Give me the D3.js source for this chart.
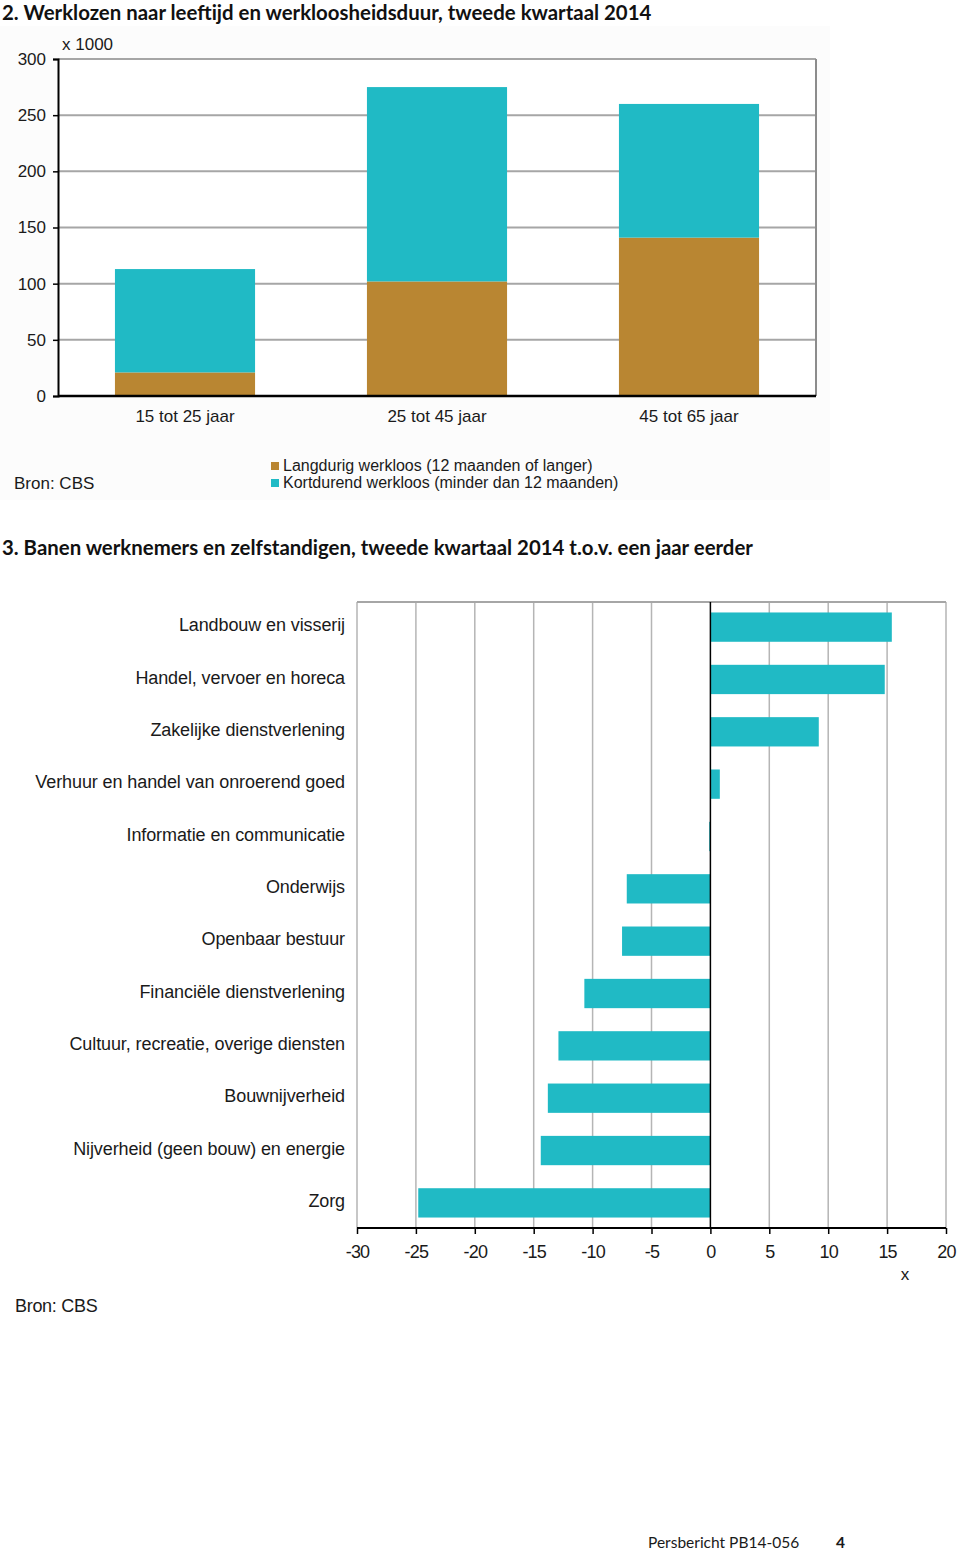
<!DOCTYPE html>
<html><head><meta charset="utf-8">
<script src="https://cdn.jsdelivr.net/npm/d3@7"></script>
<style>
body{margin:0;background:#fff;}
svg text{font-family:"Liberation Sans",Arial,sans-serif;fill:#1a1a1a;}
.title{font-family:Lato,"Open Sans",sans-serif;font-weight:bold;font-size:20.4px;fill:#111;}
</style></head>
<body>
<svg id="c" width="960" height="1550"></svg>
<script>
// Chart 2 data (x 1000)
const ageGroups = ["15 tot 25 jaar", "25 tot 45 jaar", "45 tot 65 jaar"];
const longTerm = [21, 102, 141];
const shortTerm = [92, 173, 119];
const yTicks2 = [0, 50, 100, 150, 200, 250, 300];
const seriesNames = ["Langdurig werkloos (12 maanden of langer)", "Kortdurend werkloos (minder dan 12 maanden)"];

// Chart 3 data
const sectors = ["Landbouw en visserij", "Handel, vervoer en horeca", "Zakelijke dienstverlening",
  "Verhuur en handel van onroerend goed", "Informatie en communicatie", "Onderwijs", "Openbaar bestuur",
  "Financiële dienstverlening", "Cultuur, recreatie, overige diensten", "Bouwnijverheid",
  "Nijverheid (geen bouw) en energie", "Zorg"];
const changes = [15.4, 14.8, 9.2, 0.8, -0.1, -7.1, -7.5, -10.7, -12.9, -13.8, -14.4, -24.8];
const xTicks3 = [-30, -25, -20, -15, -10, -5, 0, 5, 10, 15, 20];

const teal = "#20bac5", brown = "#b98632";
const svg = d3.select("#c");

// ---------- Chart 2 ----------
svg.append("text").attr("class","title").attr("x",2).attr("y",20).text("2. Werklozen naar leeftijd en werkloosheidsduur, tweede kwartaal 2014");
svg.append("rect").attr("x",0).attr("y",26).attr("width",830).attr("height",474).attr("fill","#fcfcfc");

const L2=58, R2=816, T2=59, B2=396;
const y2 = d3.scaleLinear().domain([0,300]).range([B2,T2]);
const x2 = d3.scaleBand().domain(ageGroups).range([L2,R2]).paddingInner(0.444).paddingOuter(0.226);
const g2 = svg.append("g");
g2.append("rect").attr("x",L2).attr("y",T2).attr("width",R2-L2).attr("height",B2-T2).attr("fill","#fff");
g2.selectAll("line.grid").data(yTicks2.filter(d=>d>0)).join("line")
  .attr("x1",L2).attr("x2",R2).attr("y1",d=>y2(d)).attr("y2",d=>y2(d))
  .attr("stroke","#a6a6a6").attr("stroke-width",2);
g2.append("line").attr("x1",R2).attr("x2",R2).attr("y1",T2).attr("y2",B2).attr("stroke","#8c8c8c").attr("stroke-width",2);

g2.selectAll("rect.long").data(ageGroups).join("rect")
  .attr("x",d=>x2(d)).attr("width",x2.bandwidth())
  .attr("y",(d,i)=>y2(longTerm[i])).attr("height",(d,i)=>B2-y2(longTerm[i])).attr("fill",brown);
g2.selectAll("rect.short").data(ageGroups).join("rect")
  .attr("x",d=>x2(d)).attr("width",x2.bandwidth())
  .attr("y",(d,i)=>y2(longTerm[i]+shortTerm[i])).attr("height",(d,i)=>y2(longTerm[i])-y2(longTerm[i]+shortTerm[i])).attr("fill",teal);

const ya = g2.append("g").attr("transform",`translate(${L2},0)`)
  .call(d3.axisLeft(y2).tickValues(yTicks2).tickSize(5).tickPadding(7));
ya.select(".domain").attr("stroke","#000").attr("stroke-width",2);
ya.selectAll(".tick line").attr("stroke","#000").attr("stroke-width",1.5);
ya.selectAll("text").style("font-size","17px").attr("fill","#1a1a1a");

const xa = g2.append("g").attr("transform",`translate(0,${B2})`)
  .call(d3.axisBottom(x2).tickSize(0).tickPadding(14));
xa.select(".domain").attr("stroke","#000").attr("stroke-width",2.5).attr("d",`M${L2},0H${R2}`);
xa.selectAll("text").style("font-size","17px").attr("fill","#1a1a1a");

svg.append("text").attr("x",62).attr("y",50).style("font-size","17px").text("x 1000");

const leg = svg.append("g");
[brown,teal].forEach((c,i)=>{
  leg.append("rect").attr("x",271).attr("y",462+i*17).attr("width",8).attr("height",8).attr("fill",c);
  leg.append("text").attr("x",283).attr("y",471+i*17).style("font-size","16px").text(seriesNames[i]);
});
svg.append("text").attr("x",14).attr("y",489).style("font-size","17px").text("Bron: CBS");

// ---------- Chart 3 ----------
svg.append("text").attr("class","title").attr("x",2).attr("y",555).text("3. Banen werknemers en zelfstandigen, tweede kwartaal 2014 t.o.v. een jaar eerder");

const L3=357, R3=946, T3=602, B3=1228;
const x3 = d3.scaleLinear().domain([-30,20]).range([L3,R3]);
const y3 = d3.scaleBand().domain(sectors).range([T3,B3]).paddingInner(0.44).paddingOuter(0.2);
const g3 = svg.append("g");
g3.selectAll("line.grid").data(xTicks3.filter(d=>d!==0)).join("line")
  .attr("x1",d=>x3(d)).attr("x2",d=>x3(d)).attr("y1",T3).attr("y2",B3)
  .attr("stroke","#b5b5b5").attr("stroke-width",1.5);
g3.append("line").attr("x1",L3).attr("x2",R3).attr("y1",T3).attr("y2",T3).attr("stroke","#a6a6a6").attr("stroke-width",2);

g3.selectAll("rect.bar").data(sectors).join("rect")
  .attr("x",(d,i)=>x3(Math.min(0,changes[i]))).attr("width",(d,i)=>Math.max(1,Math.abs(x3(changes[i])-x3(0))))
  .attr("y",d=>y3(d)).attr("height",y3.bandwidth()).attr("fill",teal);

g3.append("line").attr("x1",x3(0)).attr("x2",x3(0)).attr("y1",T3).attr("y2",B3).attr("stroke","#000").attr("stroke-width",1.5);

const xa3 = g3.append("g").attr("transform",`translate(0,${B3})`)
  .call(d3.axisBottom(x3).tickValues(xTicks3).tickSize(6).tickPadding(11).tickFormat(d=>String(d)));
xa3.select(".domain").attr("stroke","#000").attr("stroke-width",2).attr("d",`M${L3},0H${R3}`);
xa3.selectAll(".tick line").attr("stroke","#000").attr("stroke-width",1.5);
xa3.selectAll("text").style("font-size","18px").style("letter-spacing","-0.8px").attr("fill","#1a1a1a");

g3.selectAll("text.lab").data(sectors).join("text")
  .attr("x",345).attr("y",d=>y3(d)+y3.bandwidth()/2-2).attr("dy","0.35em").attr("text-anchor","end")
  .style("font-size","18px").style("letter-spacing","-0.1px").text(d=>d);

svg.append("text").attr("x",905).attr("y",1280).attr("text-anchor","middle").style("font-size","17px").text("x");
svg.append("text").attr("x",15).attr("y",1312).style("font-size","18px").style("letter-spacing","-0.3px").text("Bron: CBS");

// footer
svg.append("text").attr("x",648).attr("y",1548).style("font-family","Lato,'Open Sans',sans-serif").style("font-size","15.5px").text("Persbericht PB14-056");
svg.append("text").attr("x",836).attr("y",1548).style("font-family","Lato,'Open Sans',sans-serif").style("font-size","15.5px").style("font-weight","bold").text("4");
</script>
</body></html>
